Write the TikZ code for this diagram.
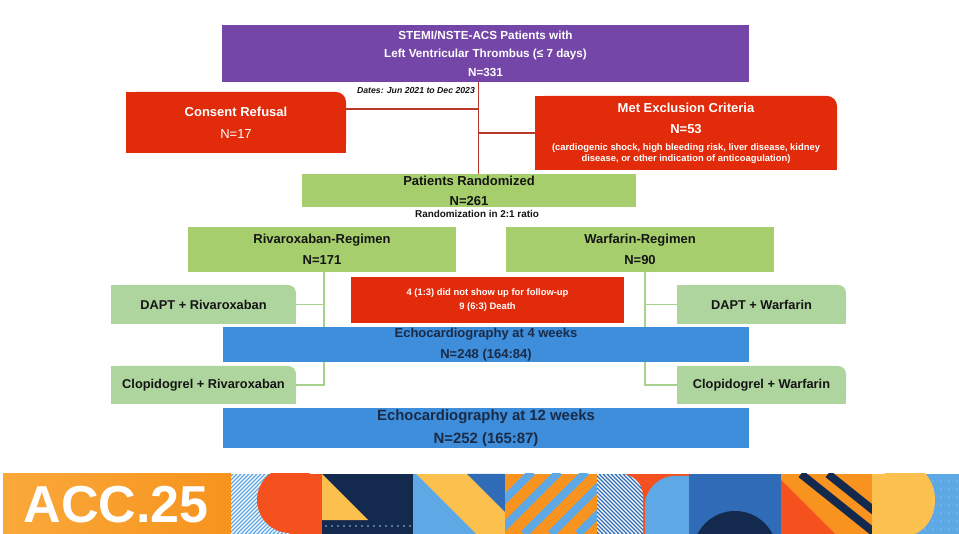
\documentclass[tikz,border=0pt]{standalone}
\usepackage{fontspec}
\setmainfont{Liberation Sans}
\usetikzlibrary{calc}
\pgfdeclarelayer{bg}
\pgfsetlayers{bg,main}
\definecolor{cpur}{HTML}{7446A8}
\definecolor{cred}{HTML}{E22B0B}
\definecolor{cgrn}{HTML}{A6CE6C}
\definecolor{clgr}{HTML}{AFD59E}
\definecolor{cblu}{HTML}{3E8EDB}
\definecolor{cline}{HTML}{B8392C}
\definecolor{cglin}{HTML}{A9D18E}
\definecolor{ctxt}{HTML}{151515}
\definecolor{cnavytxt}{HTML}{1A2B48}
\definecolor{bor}{HTML}{F9A93A}
\definecolor{bor2}{HTML}{F7931E}
\definecolor{bnavy}{HTML}{13294D}
\definecolor{blb}{HTML}{5EA9E5}
\definecolor{byel}{HTML}{FCC04E}
\definecolor{bred}{HTML}{F4511E}
\definecolor{bblue}{HTML}{2F6BB6}
\newcommand\fsz[2]{\fontsize{#1}{#2}\selectfont}
\newcommand\nefill[3]{%
  \fill[#1] (#2.south west) rectangle ([yshift=-#3]#2.north east);
  \fill[#1] (#2.south west) rectangle ([xshift=-#3]#2.north east);
  \fill[#1,rounded corners=#3] (#2.south west) rectangle (#2.north east);}
\begin{document}
\begin{tikzpicture}[x=1pt,y=-1pt,
  box/.style={inner sep=0pt, outer sep=0pt, align=center},
  tline/.style={draw=cline, line width=1.5pt},
  gline/.style={draw=cglin, line width=1.5pt}]
\useasboundingbox (0,0) rectangle (959,534);
\begin{pgfonlayer}{bg}
\fill[white] (0,0) rectangle (959,534);
\end{pgfonlayer}

% ---------- flow boxes ----------
\node[box, fill=cpur, text=white, minimum width=527pt, minimum height=57pt,
  font=\bfseries\fsz{11.7}{18.5}] (top) at (485.5,53.5)
  {STEMI/NSTE-ACS Patients with\\Left Ventricular Thrombus (≤ 7 days)\\N=331};

\node[box, text=white, minimum width=220pt, minimum height=61pt,
  font=\fsz{13}{22}] (cref) at (236,122.5) {\textbf{Consent Refusal}\\N=17};

\node[box, minimum width=302pt, minimum height=74pt] (ex) at (686,133) {};
\node[box, text=white, font=\bfseries\fsz{13}{21}] (ext) at (686,118.5)
  {Met Exclusion Criteria\\N=53};
\node[box, text=white, font=\bfseries\fsz{9.4}{10.5}] (exs) at (686,153.5)
  {(cardiogenic shock, high bleeding risk, liver disease, kidney\\disease, or other indication of anticoagulation)};

\node[box, font=\bfseries\itshape\fsz{8.7}{8.7}, text=ctxt] (dates) at (416,91)
  {Dates: Jun 2021 to Dec 2023};

\node[box, fill=cgrn, minimum width=334pt, minimum height=33pt, text=ctxt,
  font=\bfseries\fsz{13}{20}] (rand) at (469,190.5) {Patients Randomized\\N=261};
\node[box, font=\bfseries\fsz{9.9}{9.9}, text=ctxt] (ratio) at (477,214)
  {Randomization in 2:1 ratio};

\node[box, fill=cgrn, minimum width=268pt, minimum height=45pt, text=ctxt,
  font=\bfseries\fsz{13}{21}] (riv) at (322,249.5) {Rivaroxaban-Regimen\\N=171};
\node[box, fill=cgrn, minimum width=268pt, minimum height=45pt, text=ctxt,
  font=\bfseries\fsz{13}{21}] (war) at (640,249.5) {Warfarin-Regimen\\N=90};

\node[box, minimum width=185pt, minimum height=39pt, text=ctxt,
  font=\bfseries\fsz{12.8}{14}] (dr) at (203.5,304.5) {DAPT + Rivaroxaban};
\node[box, minimum width=169pt, minimum height=39pt, text=ctxt,
  font=\bfseries\fsz{12.8}{14}] (dw) at (761.5,304.5) {DAPT + Warfarin};

\node[box, fill=cred, minimum width=273pt, minimum height=46pt, text=white,
  font=\bfseries\fsz{9.4}{14}] (loss) at (487.5,300)
  {4 (1:3) did not show up for follow-up\\9 (6:3) Death};

\node[box, fill=cblu, minimum width=526pt, minimum height=35pt, text=cnavytxt,
  font=\bfseries\fsz{13}{21}] (e4) at (486,344.5)
  {Echocardiography at 4 weeks\\N=248 (164:84)};

\node[box, minimum width=185pt, minimum height=38pt, text=ctxt,
  font=\bfseries\fsz{12.8}{14}] (cr2) at (203.5,385) {Clopidogrel + Rivaroxaban};
\node[box, minimum width=169pt, minimum height=38pt, text=ctxt,
  font=\bfseries\fsz{12.8}{14}] (cw) at (761.5,385) {Clopidogrel + Warfarin};

\node[box, fill=cblu, minimum width=526pt, minimum height=40pt, text=cnavytxt,
  font=\bfseries\fsz{14.9}{23}] (e12) at (486,428)
  {Echocardiography at 12 weeks\\N=252 (165:87)};

\begin{pgfonlayer}{bg}
\nefill{cred}{cref}{10pt}
\nefill{cred}{ex}{10pt}
\nefill{clgr}{dr}{8pt}
\nefill{clgr}{dw}{8pt}
\nefill{clgr}{cr2}{8pt}
\nefill{clgr}{cw}{8pt}
\end{pgfonlayer}

% ---------- connectors ----------
\coordinate (vx) at (478.5,0);
\coordinate (j1) at (478.5,109);
\coordinate (lx) at (324,0);
\coordinate (rx) at (645,0);
\draw[tline] (top.south -| vx) -- (rand.north -| vx);
\draw[tline] (cref.east |- j1) -- (j1);
\draw[tline] (ex.west) -- (ex.west -| vx);
\draw[gline] (riv.south -| lx) -- (e4.north -| lx);
\draw[gline] (dr.east) -- (dr.east -| lx);
\draw[gline] (war.south -| rx) -- (e4.north -| rx);
\draw[gline] (dw.west) -- (dw.west -| rx);
\draw[gline] (e4.south -| lx) |- (cr2.east);
\draw[gline] (e4.south -| rx) |- (cw.west);

% ---------- banner ----------
\shade[left color=bor, right color=bor2] (3,474) rectangle (231,534);
\node[inner sep=0pt, text=white, font=\bfseries\fsz{52}{52}] (acc) at (116,505) {ACC.25};
% tile 1
\begin{scope}
\clip (231,474) rectangle (322,534);
\fill[blb] (231,474) rectangle (322,534);
\foreach \i in {0,...,40} \draw[white, line width=1.1pt] ({171+\i*4},534) -- ++(60,-60);
\fill[bred] (290,500) circle[radius=33pt];
\fill[bred] (290,474) rectangle (322,534);
\end{scope}
% tile 2
\fill[bnavy] (322,474) rectangle (413,534);
\fill[byel] (322,474) -- (322,520) -- (368,520) -- cycle;
\foreach \i in {0,...,14} \fill[blb!60!white] ({326+\i*6},526) circle[radius=0.8pt];
% tile 3
\fill[byel] (413,474) rectangle (505,534);
\fill[blb] (413,474) -- (416,474) -- (476,534) -- (413,534) -- cycle;
\fill[bblue] (467,474) -- (505,474) -- (505,512) -- cycle;
% tile 4
\begin{scope}
\clip (505,474) rectangle (597,534);
\fill[bor2] (505,474) rectangle (597,534);
\foreach \k in {0,...,5} \draw[blb, line width=8pt] ({470+\k*27},534) -- ++(62,-62);
\end{scope}
% tile 5
\begin{scope}
\clip (597,474) rectangle (689,534);
\fill[bred] (597,474) rectangle (689,534);
\begin{scope}
\clip[rounded corners=22pt] (567,474) rectangle (643,564);
\fill[bblue] (597,474) rectangle (643,534);
\foreach \i in {0,...,30} \draw[white, line width=1.1pt] ({537+\i*4},474) -- ++(60,60);
\end{scope}
\fill[blb, rounded corners=30pt] (645,476) rectangle (720,570);
\end{scope}
% tile 6
\begin{scope}
\clip (689,474) rectangle (781,534);
\fill[bblue] (689,474) rectangle (781,534);
\fill[bnavy] (735,553) circle[radius=42pt];
\end{scope}
% tile 7
\begin{scope}
\clip (781,474) rectangle (872,534);
\fill[bor2] (781,474) rectangle (872,534);
\fill[bred] (781,480) -- (835,534) -- (781,534) -- cycle;
\draw[bnavy, line width=8pt] (801,474) -- ++(80,64);
\draw[bnavy, line width=8pt] (828,474) -- ++(80,64);
\end{scope}
% tile 8
\begin{scope}
\clip (872,474) rectangle (959,534);
\fill[blb] (872,474) rectangle (959,534);
\fill[byel] (872,474) rectangle (905,534);
\fill[byel] (905,500) ellipse[x radius=30pt, y radius=36pt];
\foreach \yy in {481,489,...,529} \foreach \xx in {877,885,...,957}
  \fill[white, opacity=0.5] (\xx,\yy) circle[radius=0.7pt];
\end{scope}
\end{tikzpicture}
\end{document}
